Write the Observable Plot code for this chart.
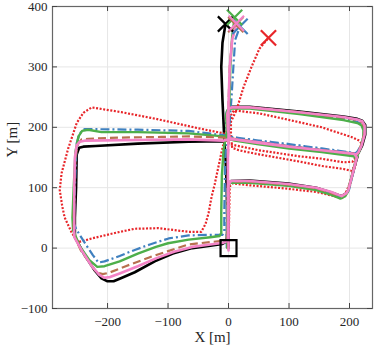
<!DOCTYPE html>
<html><head><meta charset="utf-8">
<script src="https://cdn.jsdelivr.net/npm/d3@7"></script>
<script src="https://cdn.jsdelivr.net/npm/@observablehq/plot@0.6"></script>
<style>body{margin:0;background:#fff} svg text{font-family:"Liberation Serif","DejaVu Serif",serif}</style>
</head><body><div id="chart"></div>
<script>
const xDomain = [-291, 238];
const yDomain = [-100, 400];
const xTicks = [-200, -100, 0, 100, 200];
const yTicks = [-100, 0, 100, 200, 300, 400];
const startPoint = [0, 0];

const black = [
[0,0],[0,50],[0,106],[4,111],[35,112],[99,107],[145,100],[170,92],[187,86],[195,91],[198,96],[203,115],[208,134],[213,151],
[208,156],[154,162],[100,168],[50,174],[10,180],[1,183],
[0,195],[-1,222],[1,231],[6,234],[35,234],[117,226],[190,218],[213,214],[221,211],[226,204],[226,188],[221,170],[215,158],[211,154],
[208,156],[154,162],[100,168],[50,175],[10,180],[0,180],
[-8,177],[-66,176],[-150,173],[-220,169],[-240,168],[-247,166],[-251,155],[-252,100],[-254,50],[-254,18],
[-240,-8],[-222,-36],[-210,-50],[-200,-55],[-190,-55],[-178,-50],[-155,-40],[-122,-22],[-92,-9],[-60,0],[-30,4],[-10,7],[-3,11],
[-2,40],[-3,100],[-5,150],[-7,180],[-10,245],[-12,300],[-10,340],[-5,371]
];
const red = [
[0,0],[1,50],[2,102],[6,107],[35,104],[91,99],[145,93],[175,86],[187,82],[193,90],[198,101],[205,122],[210,138],
[203,128],[190,131],[154,136],[124,142],[46,156],[17,162],[6,166],
[4,190],[4,220],[9,228],[51,223],[101,212],[154,200],[203,184],[216,178],[220,173],
[217,163],[212,152],[205,143],[190,142],[154,148],[117,152],[50,162],[2,172],[-4,178],
[-8,190],[-53,199],[-66,202],[-120,214],[-177,225],[-226,233],[-240,224],[-251,207],[-265,165],[-276,124],[-279,96],[-275,70],[-271,51],[-259,25],[-248,10],
[-236,13],[-226,16],[-188,25],[-155,32],[-116,33],[-66,27],[-45,27],
[-38,40],[-33,58],[-28,85],[-23,105],[-12,157],[-3,195],[13,228],[25,267],[38,300],[51,330],[66,348]
];
const blue = [
[-3,0],[-3,50],[-2,104],[3,109],[35,109],[99,104],[145,97],[170,89],[186,84],[194,88],[199,96],[204,116],[209,136],[212,152],
[210,157],[154,165],[100,172],[50,178],[5,184],[0,186],
[-4,200],[-4,222],[-2,229],[4,232],[35,232],[117,223],[190,214],[213,209],[221,204],[224,195],[223,183],[218,168],[213,160],
[210,157],[154,165],[100,172],[50,178],[5,184],[-3,186],
[-8,187],[-66,194],[-150,196],[-230,197],[-238,197],[-246,190],[-251,174],[-254,100],[-256,41],[-251,30],
[-236,6],[-224,-12],[-215,-24],[-205,-22],[-180,-13],[-155,-3],[-130,6],[-99,16],[-66,21],[-30,22],[-10,22],[-7,28],
[-7,60],[-6,120],[-5,160],[0,185],[5,250],[8,300],[11,345],[19,367]
];
const green = [
[-2,0],[-2,50],[-1,103],[3,108],[35,108],[99,103],[145,96],[170,88],[185,82],[193,86],[197,93],[202,113],[207,132],[211,148],
[207,152],[154,159],[100,165],[50,172],[10,178],[0,181],
[-3,195],[-4,220],[-2,228],[4,231],[35,231],[117,222],[190,212],[213,207],[220,203],[223,195],[223,185],[218,165],[213,153],[209,150],
[207,152],[154,159],[100,165],[50,172],[10,180],[-2,183],
[-8,185],[-66,190],[-150,192],[-210,192],[-232,196],[-242,194],[-248,185],[-253,160],[-256,100],[-258,50],[-257,30],
[-246,3],[-230,-20],[-217,-31],[-205,-30],[-180,-22],[-150,-9],[-120,2],[-100,8],[-66,14],[-30,18],[-15,20],[-12,25],
[-12,60],[-11,120],[-8,165],[-3,190],[1,230],[3,300],[6,350],[10,382]
];
const brown = [
[-1,-2],[-1,50],[0,105],[4,110],[35,110],[99,105],[145,99],[170,91],[186,86],[194,90],[198,96],[203,116],[208,135],[212,150],
[208,156],[154,162],[100,168],[50,174],[10,180],[1,183],
[-1,195],[-2,222],[0,230],[5,233],[35,233],[117,225],[190,216],[213,212],[221,208],[224,201],[224,188],[219,170],[214,158],[210,155],
[208,156],[154,162],[100,168],[50,175],[10,181],[0,182],
[-8,183],[-66,185],[-111,184],[-180,183],[-232,181],[-243,180],[-249,172],[-253,150],[-255,100],[-256,50],[-256,22],
[-244,-4],[-230,-24],[-218,-40],[-208,-43],[-198,-41],[-170,-30],[-130,-15],[-100,-5],[-66,6],[-30,10],[-10,12],[-2,15],
[-1,40],[-1,100],[-1,150],[0,180],[0,240],[2,300],[6,345],[12,370]
];
const pink = [
[0,-4],[0,50],[0,105],[4,111],[35,111],[99,106],[145,100],[170,93],[187,86],[195,91],[198,96],[203,115],[208,134],[212,150],
[208,156],[154,162],[100,168],[50,174],[10,180],[2,182],
[-1,195],[-2,222],[0,230],[5,233],[35,233],[117,225],[190,217],[213,213],[221,210],[225,203],[225,188],[220,170],[215,159],[211,155],
[208,156],[154,162],[100,168],[50,175],[10,180],[0,180],
[-8,178],[-66,180],[-150,179],[-236,178],[-246,176],[-251,170],[-254,150],[-255,100],[-255,50],[-255,18],
[-242,-5],[-226,-30],[-214,-44],[-206,-49],[-196,-48],[-180,-42],[-150,-30],[-120,-17],[-90,-6],[-60,2],[-30,6],[-8,9],[-1,13],
[-1,40],[-1,100],[-1,150],[0,180],[0,240],[2,300],[6,345],[13,372]
];

const series = [
  {pts: black, stroke: "#000000", width: 2.6, dash: null, cap: "round"},
  {pts: red,   stroke: "#e8262a", width: 2.2, dash: "2,1.6", cap: "butt"},
  {pts: blue,  stroke: "#3f80bf", width: 2.2, dash: "9,3,2,3", cap: "butt"},
  {pts: green, stroke: "#4daf4a", width: 2.4, dash: null, cap: "round"},
  {pts: brown, stroke: "#b8704f", width: 2.2, dash: "8,4", cap: "butt"},
  {pts: pink,  stroke: "#f383c6", width: 2.6, dash: null, cap: "round"}
];

const ends = series.map(s => ({x: s.pts[s.pts.length-1][0], y: s.pts[s.pts.length-1][1], c: s.stroke}));

const font = "Liberation Serif";
const tickStyle = {stroke: "#444", strokeWidth: 1};

const chart = Plot.plot({
  width: 374,
  height: 350,
  marginLeft: 52,
  marginRight: 2,
  marginTop: 6,
  marginBottom: 42,
  x: {domain: xDomain},
  y: {domain: yDomain},
  style: {fontFamily: font, fontSize: "13px", background: "#fff", color: "#262626"},
  marks: [
    Plot.gridX(xTicks, {stroke: "#e6e6e6", strokeOpacity: 1}),
    Plot.gridY(yTicks, {stroke: "#e6e6e6", strokeOpacity: 1}),
    ...series.map(s => Plot.line(s.pts, {x: d => d[0], y: d => d[1], stroke: s.stroke, strokeWidth: s.width, strokeDasharray: s.dash, strokeLinejoin: "round", strokeLinecap: s.cap})),
    Plot.dot(ends, {x: "x", y: "y", stroke: "c", symbol: "times", r: 7, strokeWidth: 2.2}),
    Plot.dot([startPoint], {x: d => d[0], y: d => d[1], symbol: "square", r: 9, stroke: "#000", strokeWidth: 2.2, fill: "none"}),
    Plot.frame({stroke: "#666", strokeWidth: 1.2}),
    Plot.ruleX(xTicks, {x: d => d, y1: yDomain[0], y2: yDomain[0], insetBottom: 5, ...tickStyle}),
    Plot.ruleX(xTicks, {x: d => d, y1: yDomain[1], y2: yDomain[1], insetTop: 5, ...tickStyle}),
    Plot.ruleY(yTicks, {y: d => d, x1: xDomain[0], x2: xDomain[0], insetLeft: 5, ...tickStyle}),
    Plot.ruleY(yTicks, {y: d => d, x1: xDomain[1], x2: xDomain[1], insetRight: 5, ...tickStyle}),
    Plot.axisX(xTicks, {tickSize: 0, tickPadding: 8, fontSize: 13, fontFamily: font, label: null}),
    Plot.axisY(yTicks, {tickSize: 0, tickPadding: 5, fontSize: 13, fontFamily: font, label: null}),
    Plot.text(["X [m]"], {frameAnchor: "bottom", dy: 33, fontSize: 15, fontFamily: font, fill: "#262626"}),
    Plot.text(["Y [m]"], {frameAnchor: "left", dx: -40, rotate: -90, fontSize: 15, fontFamily: font, fill: "#262626"})
  ]
});
document.getElementById("chart").appendChild(chart);
</script>
</body></html>
